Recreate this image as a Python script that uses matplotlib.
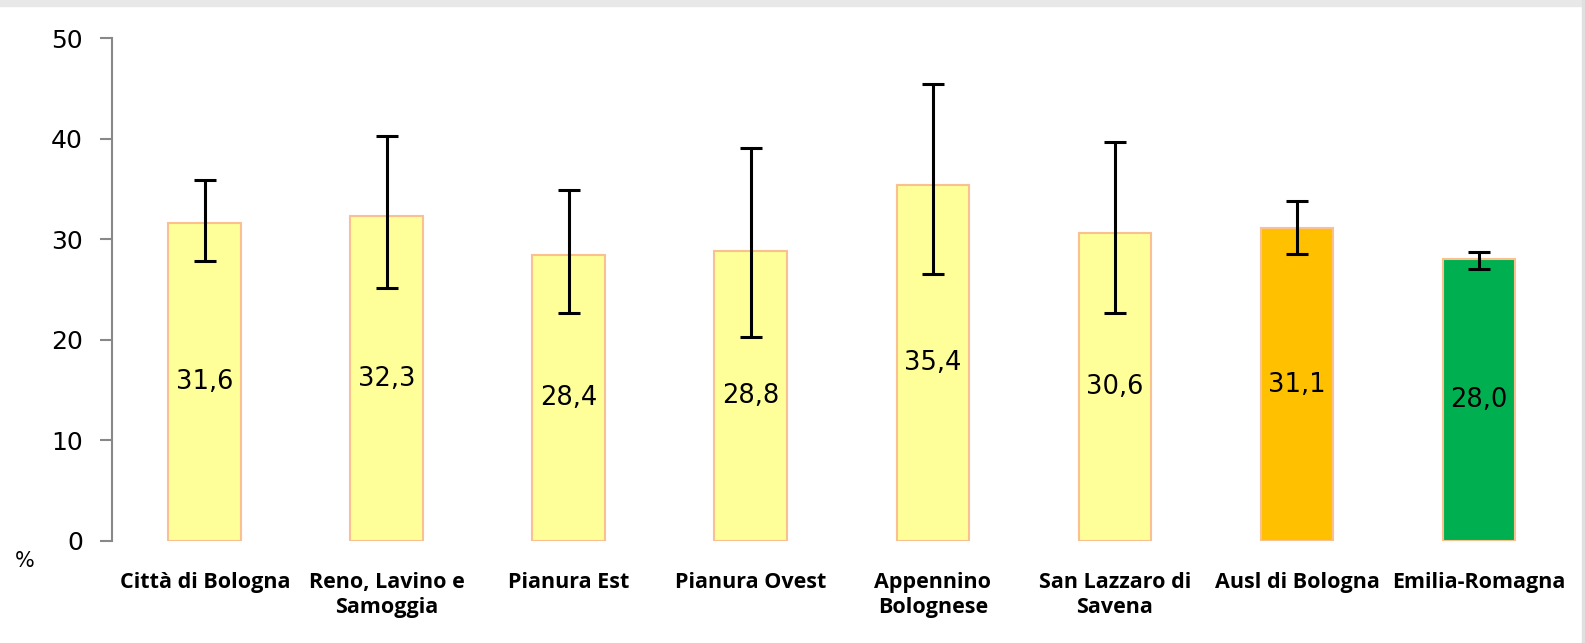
import matplotlib.pyplot as plt
from matplotlib.patches import Rectangle

# Data
zones = ["Città di Bologna", "Reno, Lavino e\nSamoggia", "Pianura Est", "Pianura Ovest",
         "Appennino\nBolognese", "San Lazzaro di\nSavena", "Ausl di Bologna", "Emilia-Romagna"]
values = [31.6, 32.3, 28.4, 28.8, 35.4, 30.6, 31.1, 28.0]
ci_low = [27.8, 25.2, 22.7, 20.3, 26.6, 22.7, 28.5, 27.1]
ci_high = [35.9, 40.3, 34.9, 39.1, 45.5, 39.7, 33.8, 28.7]
colors = ["#FFFF99"] * 6 + ["#FFC000", "#00B050"]

yerr = [[v - lo for v, lo in zip(values, ci_low)],
        [hi - v for v, hi in zip(values, ci_high)]]

fig = plt.figure(figsize=(15.85, 6.43), dpi=100)
ax = fig.add_axes([112 / 1585, 102 / 643, 1458 / 1585, 502.7 / 643])

x = range(len(zones))
bars = ax.bar(x, values, width=0.4, color=colors, edgecolor="#FAC090", linewidth=1.5)
ax.errorbar(x, values, yerr=yerr, fmt="none", ecolor="black", elinewidth=2.2,
            capsize=8, capthick=2.2)

labels = [f"{v:.1f}".replace(".", ",") for v in values]
ax.bar_label(bars, labels=labels, label_type="center", fontsize=18.5, color="black")

ax.set_ylim(0, 50)
ax.set_yticks([0, 10, 20, 30, 40, 50])
ax.set_xlim(-0.51, 7.5)
ax.set_xticks(list(x))
ax.set_xticklabels(zones, fontsize=15.5, fontweight="bold",
                   family=["Open Sans", "DejaVu Sans"], linespacing=1.25)
ax.tick_params(axis="x", length=0, pad=22)
ax.tick_params(axis="y", labelsize=18, color="#888888", length=9, width=1.5, pad=12)

for side in ["top", "right", "bottom"]:
    ax.spines[side].set_visible(False)
ax.spines["left"].set_color("#888888")
ax.spines["left"].set_linewidth(1.5)

fig.text(15 / 1585, 1 - 561 / 643, "%", fontsize=15, va="center")

# light frame bits at top and right edge
fig.patches.append(Rectangle((0, 1 - 6 / 643), 1, 6 / 643, transform=fig.transFigure,
                             color="#E8E8E8", zorder=-1))
fig.patches.append(Rectangle((1582 / 1585, 0), 3 / 1585, 1, transform=fig.transFigure,
                             color="#E0E0E0", zorder=-1))

fig.savefig("out.png", dpi=100)
